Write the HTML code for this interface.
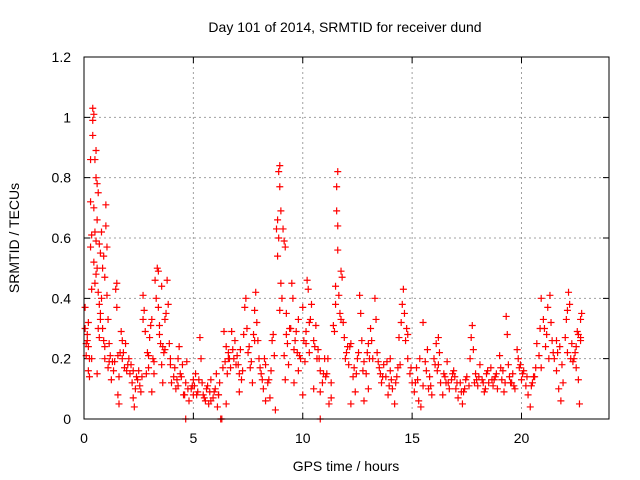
<!DOCTYPE html>
<html><head><meta charset="utf-8"><style>
html,body{margin:0;padding:0;background:#fff}
svg{display:block;font-family:"Liberation Sans",sans-serif}
</style></head><body>
<svg id="chart" width="640" height="480" viewBox="0 0 640 480">
<rect width="640" height="480" fill="#fff"/>
<text x="345" y="32" text-anchor="middle" font-size="14" fill="#000">Day 101 of 2014, SRMTID for receiver dund</text>
<text x="346" y="471" text-anchor="middle" font-size="14" fill="#000">GPS time / hours</text>
<text transform="translate(19,238) rotate(-90)" text-anchor="middle" font-size="14" fill="#000">SRMTID / TECUs</text>
<g id="grid"></g>
<g id="axes"></g>
<g id="pts"></g>
<rect x="84" y="57" width="525" height="362" fill="none" stroke="#000" stroke-width="1"/>
</svg>
<script>
const xTicks=[0,5,10,15,20];
const xTickLabels=["0","5","10","15","20"];
const yTicks=[0,0.2,0.4,0.6,0.8,1,1.2];
const yTickLabels=["0","0.2","0.4","0.6","0.8","1","1.2"];
const times=[0.05,0.05,0.1,0.1,0.15,0.2,0.2,0.25,0.3,0.3,0.3,0.35,0.35,0.4,0.4,0.4,0.45,0.45,0.45,0.5,0.5,0.5,0.55,0.55,0.55,0.6,0.6,0.6,0.65,0.65,0.65,0.7,0.7,0.7,0.75,0.75,0.8,0.8,0.85,0.85,0.9,0.9,0.95,0.95,1.0,1.0,1.05,1.05,1.1,1.1,1.15,1.2,1.25,1.3,0.25,0.2,0.6,
1.4,1.45,1.5,1.5,1.55,1.6,1.6,1.7,1.75,1.8,1.85,1.9,2.0,2.05,2.1,2.2,2.25,2.3,2.35,2.4,2.5,2.55,2.6,2.65,
2.7,2.75,2.8,2.9,2.95,3.0,3.05,3.1,3.15,3.2,3.25,3.3,3.35,3.4,3.4,3.45,3.5,3.55,3.6,3.65,3.7,3.75,3.8,3.85,3.9,3.95,4.0,3.6,3.1,2.85,
4.1,4.2,4.3,4.35,4.4,4.5,4.6,4.65,4.7,4.8,4.9,5.0,5.1,5.2,5.3,5.35,5.4,5.5,5.6,5.7,5.8,5.9,6.0,6.1,6.2,4.3,5.0,5.8,6.05,4.65,6.25,6.3,10.8,
6.4,6.45,6.5,6.55,6.6,6.7,6.75,6.8,6.9,7.0,7.1,7.2,7.3,7.35,7.4,7.45,7.5,7.6,7.7,7.75,7.8,7.85,7.9,7.95,8.0,8.1,8.2,8.3,8.4,8.5,6.5,7.1,8.3,
8.6,8.7,8.75,8.8,8.85,8.85,8.9,8.9,8.95,8.95,9.0,9.0,9.05,9.1,9.15,9.2,9.25,9.3,9.35,9.4,9.5,9.55,9.6,9.7,9.8,9.9,10.0,10.05,10.1,10.2,10.25,10.3,10.4,10.5,10.6,10.7,10.8,10.9,11.0,9.2,9.6,10.0,10.5,10.8,9.8,10.3,
11.1,11.2,11.3,11.4,11.5,11.5,11.55,11.55,11.6,11.6,11.6,11.65,11.7,11.75,11.8,11.85,11.9,12.0,12.1,12.2,12.3,12.4,12.5,11.3,12.2,
12.6,12.65,12.7,12.8,12.9,13.0,13.1,13.2,13.3,13.35,13.4,13.5,13.6,13.7,13.8,13.9,14.0,14.1,14.2,14.3,14.4,14.5,14.55,14.6,14.65,14.7,14.8,14.9,15.0,13.0,12.8,14.0,14.8,
15.1,15.2,15.3,15.4,15.5,15.6,15.7,15.8,15.9,16.0,16.1,16.2,16.3,16.4,16.5,16.6,16.7,16.8,16.9,17.0,15.5,16.2,
17.1,17.2,17.3,17.4,17.5,17.6,17.7,17.75,17.8,17.9,18.0,18.1,18.2,18.3,18.4,18.5,18.6,18.7,18.8,18.9,19.0,19.1,19.2,19.3,19.35,19.4,19.5,19.6,19.7,19.8,19.9,20.0,20.1,20.2,
20.3,20.4,20.5,20.6,20.7,20.8,20.9,21.0,21.05,21.1,21.2,21.3,21.35,21.4,21.5,21.6,21.7,21.8,21.9,22.0,22.1,22.15,22.2,22.3,22.4,22.45,22.5,22.55,22.6,22.65,22.7,22.75,22.7,22.6,21.6,20.9,22.1,
0.15,0.35,0.55,0.75,0.95,1.15,1.35,1.55,1.75,1.95,2.15,2.45,2.7,2.95,3.2,3.45,3.7,3.95,4.15,4.45,4.75,5.05,5.25,5.45,5.65,5.95,6.15,6.35,6.6,6.85,7.05,7.25,7.55,7.8,8.05,8.25,8.45,8.65,8.95,9.15,9.45,9.65,9.85,10.15,10.35,10.55,10.75,10.95,11.15,11.45,11.75,11.95,12.15,12.35,12.55,12.75,12.95,13.15,13.45,13.65,13.85,14.05,14.25,14.45,14.75,14.95,15.15,15.35,15.65,15.85,16.05,16.25,16.45,16.65,16.85,17.05,17.25,17.45,17.65,17.85,18.05,18.25,18.45,18.65,18.85,19.05,19.25,19.45,19.65,19.85,20.05,20.25,20.45,20.65,20.85,21.15,21.45,21.65,21.85,22.05,22.25,22.5,22.7,
1.65,2.25,3.55,4.25,4.55,4.95,5.15,5.55,5.75,6.15,6.65,6.95,7.15,7.65,8.15,8.55,9.25,9.75,10.15,10.65,11.05,12.05,12.45,13.05,13.55,13.95,14.35,15.25,15.75,16.15,16.55,16.95,17.35,17.95,18.35,18.75,19.15,19.55,19.95,20.55,21.25,21.75,22.35];
const srmtid=[0.37,0.3,0.25,0.21,0.28,0.32,0.24,0.14,0.86,0.72,0.57,0.43,0.61,0.99,1.03,0.94,1.01,0.7,0.52,0.86,0.62,0.45,0.89,0.8,0.59,0.78,0.66,0.5,0.75,0.42,0.3,0.58,0.38,0.27,0.55,0.35,0.62,0.4,0.5,0.3,0.54,0.26,0.47,0.2,0.64,0.71,0.57,0.41,0.33,0.17,0.25,0.21,0.13,0.19,0.2,0.16,0.15,
0.19,0.43,0.45,0.37,0.08,0.05,0.14,0.29,0.26,0.22,0.17,0.25,0.18,0.2,0.15,0.12,0.07,0.04,0.1,0.14,0.16,0.11,0.09,0.14,
0.41,0.36,0.29,0.22,0.17,0.27,0.31,0.33,0.2,0.15,0.46,0.4,0.5,0.49,0.37,0.31,0.25,0.44,0.24,0.22,0.33,0.35,0.46,0.38,0.25,0.18,0.12,0.12,0.09,0.15,
0.14,0.1,0.2,0.24,0.15,0.18,0.08,0.12,0.19,0.06,0.1,0.08,0.15,0.09,0.27,0.2,0.12,0.07,0.1,0.05,0.13,0.07,0.1,0.04,0.12,0.11,0.13,0.06,0.15,0.0,0.0,0.0,0.0,
0.29,0.19,0.24,0.15,0.2,0.17,0.29,0.23,0.26,0.21,0.15,0.13,0.28,0.37,0.4,0.3,0.22,0.17,0.12,0.28,0.36,0.42,0.32,0.26,0.2,0.15,0.1,0.18,0.12,0.07,0.05,0.09,0.06,
0.26,0.21,0.03,0.63,0.54,0.66,0.6,0.82,0.84,0.77,0.69,0.45,0.4,0.63,0.59,0.57,0.35,0.25,0.18,0.3,0.45,0.4,0.23,0.29,0.33,0.2,0.37,0.26,0.19,0.46,0.43,0.32,0.38,0.26,0.31,0.23,0.16,0.12,0.2,0.13,0.12,0.08,0.1,0.09,0.16,0.22,
0.15,0.05,0.12,0.31,0.44,0.38,0.69,0.77,0.82,0.64,0.56,0.41,0.35,0.49,0.47,0.32,0.27,0.22,0.18,0.25,0.14,0.09,0.2,0.07,0.05,
0.41,0.35,0.26,0.19,0.15,0.25,0.3,0.2,0.4,0.33,0.22,0.17,0.12,0.18,0.14,0.08,0.16,0.1,0.05,0.14,0.27,0.32,0.38,0.43,0.35,0.26,0.2,0.15,0.12,0.1,0.06,0.2,0.28,
0.09,0.17,0.06,0.04,0.11,0.19,0.23,0.14,0.08,0.2,0.25,0.18,0.12,0.08,0.14,0.19,0.1,0.13,0.16,0.1,0.32,0.27,
0.07,0.12,0.05,0.1,0.14,0.11,0.27,0.31,0.23,0.15,0.11,0.18,0.13,0.09,0.15,0.12,0.17,0.11,0.14,0.1,0.21,0.13,0.09,0.34,0.28,0.18,0.12,0.15,0.1,0.23,0.17,0.13,0.16,0.11,
0.08,0.04,0.12,0.14,0.25,0.21,0.4,0.33,0.3,0.24,0.37,0.41,0.32,0.26,0.2,0.16,0.1,0.06,0.12,0.27,0.36,0.42,0.38,0.25,0.2,0.22,0.17,0.29,0.13,0.05,0.33,0.35,0.26,0.28,0.26,0.17,0.22,
0.26,0.2,0.48,0.33,0.24,0.19,0.16,0.21,0.2,0.16,0.18,0.13,0.33,0.21,0.19,0.28,0.23,0.2,0.17,0.14,0.1,0.11,0.13,0.08,0.11,0.09,0.08,0.17,0.22,0.2,0.18,0.16,0.24,0.26,0.17,0.2,0.13,0.28,0.36,0.21,0.3,0.26,0.21,0.29,0.33,0.24,0.2,0.15,0.2,0.29,0.33,0.2,0.24,0.17,0.22,0.16,0.22,0.26,0.19,0.14,0.19,0.13,0.12,0.18,0.3,0.17,0.12,0.2,0.16,0.11,0.18,0.22,0.15,0.12,0.15,0.12,0.09,0.13,0.2,0.12,0.14,0.12,0.16,0.13,0.15,0.17,0.12,0.14,0.11,0.2,0.15,0.14,0.11,0.17,0.3,0.28,0.22,0.22,0.18,0.33,0.2,0.24,0.27,
0.22,0.16,0.18,0.13,0.08,0.11,0.08,0.06,0.09,0.08,0.2,0.18,0.23,0.19,0.13,0.16,0.28,0.22,0.25,0.2,0.14,0.24,0.15,0.2,0.15,0.11,0.17,0.13,0.1,0.16,0.12,0.14,0.09,0.13,0.1,0.13,0.16,0.12,0.18,0.14,0.2,0.24,0.19];
const X0=84,X1=609,Y0=419,Y1=57,XMAX=24,YMAX=1.2;
function xs(t){return X0+(X1-X0)*t/XMAX;}
function ys(v){return Y0-(Y0-Y1)*v/YMAX;}
const NS="http://www.w3.org/2000/svg";
const grid=document.getElementById('grid'),axes=document.getElementById('axes'),pts=document.getElementById('pts');
function mk(tag,attrs,parent){const e=document.createElementNS(NS,tag);for(const k in attrs)e.setAttribute(k,attrs[k]);parent.appendChild(e);return e;}
xTicks.forEach((t,i)=>{
  const x=xs(t);
  if(t>0){const g=mk('line',{x1:x,y1:Y0,x2:x,y2:Y1,stroke:'#a0a0a0','stroke-dasharray':'2,3','stroke-width':1},grid);
  
  }
  const tk=mk('path',{d:`M${x},${Y0}v-6M${x},${Y1}v6`,stroke:'#000','stroke-width':1},axes);
  
  
  const lb=mk('text',{x:x,y:443,'text-anchor':'middle','font-size':14,fill:'#000'},axes);
  lb.textContent=xTickLabels[i];
  
  
});
yTicks.forEach((v,i)=>{
  const y=ys(v);
  if(v>0&&v<YMAX){const g=mk('line',{x1:X0,y1:y,x2:X1,y2:y,stroke:'#a0a0a0','stroke-dasharray':'2,3','stroke-width':1},grid);
  
  }
  const tk=mk('path',{d:`M${X0},${y}h6M${X1},${y}h-6`,stroke:'#000','stroke-width':1},axes);
  
  
  const lb=mk('text',{x:71,y:y+5,'text-anchor':'end','font-size':14,fill:'#000'},axes);
  lb.textContent=yTickLabels[i];
  
  
});
times.forEach((t,i)=>{
  const x=xs(t),y=ys(srmtid[i]);
  const p=mk('path',{d:`M${x-3.5},${y}h7M${x},${y-3.5}v7`,stroke:'#ff0000','stroke-width':1.2},pts);
  
  
});
</script>
</body></html>
